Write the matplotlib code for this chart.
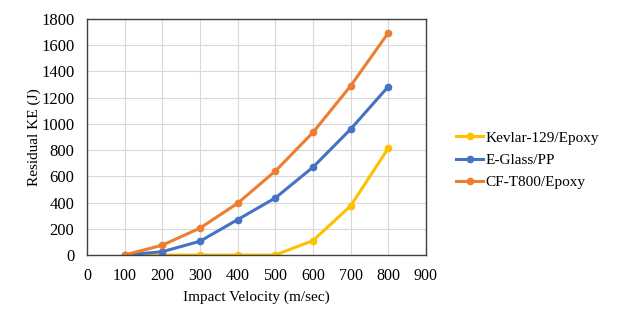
import matplotlib
matplotlib.use("Agg")
import matplotlib.pyplot as plt

plt.rcParams['font.family'] = ['Liberation Serif', 'DejaVu Serif']

velocity = [100, 200, 300, 400, 500, 600, 700, 800]
kevlar = [0, 0, 0, 0, 0, 110, 375, 815]
eglass = [0, 25, 105, 270, 435, 670, 960, 1285]
cf = [0, 75, 205, 395, 640, 935, 1290, 1695]

series_names = ["Kevlar-129/Epoxy", "E-Glass/PP", "CF-T800/Epoxy"]
colors = ["#FFC000", "#4472C4", "#ED7D31"]

fig = plt.figure(figsize=(6.23, 3.14), dpi=100)
ax = fig.add_axes([87/623, 59/314, (426-87)/623, (255-19)/314])

for vals, name, c in zip([kevlar, eglass, cf], series_names, colors):
    ax.plot(velocity, vals, color=c, lw=2.2, marker='o', ms=4.5, label=name)

ax.set_xlim(0, 900)
ax.set_ylim(0, 1800)
ax.set_xticks(range(0, 901, 100))
ax.set_yticks(range(0, 1801, 200))
ax.grid(True, color="#D9D9D9", lw=0.8)
ax.set_axisbelow(True)
ax.tick_params(axis='y', length=0, labelsize=12, pad=9)
ax.tick_params(axis='x', length=0, labelsize=11.5, pad=9)
for s in ax.spines.values():
    s.set_color("#404040")
    s.set_linewidth(1.0)
ax.set_xlabel("Impact Velocity (m/sec)", fontsize=11, labelpad=5)
ax.set_ylabel("Residual KE (J)", fontsize=11, labelpad=0)

leg = fig.legend(loc='center left', bbox_to_anchor=(442/623, 1 - 160/314),
                 frameon=False, fontsize=11, handlelength=1.8,
                 handletextpad=0.15, labelspacing=0.55)

fig.savefig("out.png", dpi=100)
